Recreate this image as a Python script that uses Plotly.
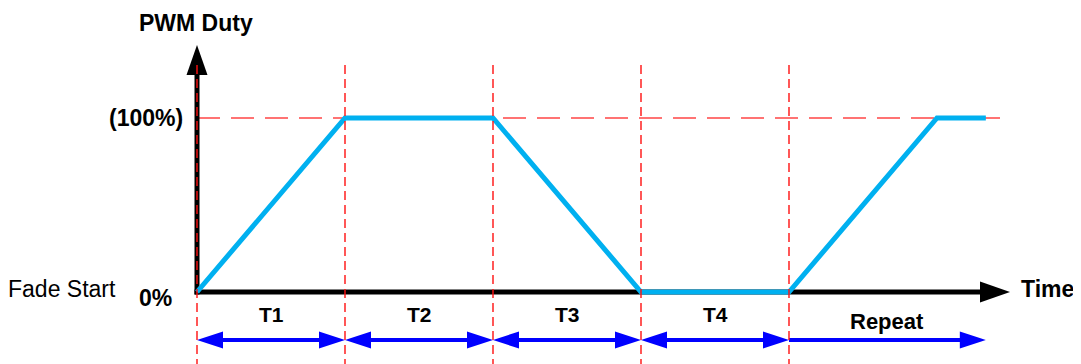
import plotly.graph_objects as go

# duty profile: time in units of one fade phase, duty in percent
time_pts = [0, 1, 2, 3, 4, 5, 5.33]
duty_pts = [0, 100, 100, 0, 0, 100, 100]

phase_edges = [0, 1, 2, 3, 4]
phase_labels = ["T1", "T2", "T3", "T4"]
repeat_end = 5.33
repeat_label = "Repeat"

duty_levels = [0, 100]
duty_labels = ["0%", "(100%)"]

# pixel mapping of the page (the html body has an 8px margin)
W, H = 1081, 364
OFF = 8
X0, Y0 = 197, 292          # origin in page pixels
PX_T, PX_D = 148.0, 1.74   # pixels per time unit / per duty percent


def to_t(px):
    return (px - X0) / PX_T


def to_d(py):
    return (Y0 - py) / PX_D


def to_px(t):
    return X0 + t * PX_T


def to_py(d):
    return Y0 - d * PX_D


FONT = "Liberation Sans, Arial, sans-serif"
fig = go.Figure()


def add_arrow(p0, p1, color, width, head_len, head_w, both=False):
    (x0, y0), (x1, y1) = p0, p1
    lx, ly = x1 - x0, y1 - y0
    n = (lx ** 2 + ly ** 2) ** 0.5
    ux, uy = lx / n, ly / n
    nx, ny = -uy, ux

    def head(tx, ty, sx, sy):
        bx, by = tx - sx * head_len, ty - sy * head_len
        xs = [tx, bx + nx * head_w / 2, bx - nx * head_w / 2, tx]
        ys = [ty, by + ny * head_w / 2, by - ny * head_w / 2, ty]
        fig.add_trace(go.Scatter(
            x=[to_t(v) for v in xs], y=[to_d(v) for v in ys],
            mode="lines", fill="toself", fillcolor=color,
            line=dict(width=0, color=color), hoverinfo="skip",
        ))

    sx0 = x0 + ux * (head_len - 2) if both else x0
    sy0 = y0 + uy * (head_len - 2) if both else y0
    sx1 = x1 - ux * (head_len - 2)
    sy1 = y1 - uy * (head_len - 2)
    fig.add_trace(go.Scatter(
        x=[to_t(sx0), to_t(sx1)], y=[to_d(sy0), to_d(sy1)],
        mode="lines", line=dict(color=color, width=width), hoverinfo="skip",
    ))
    head(x1, y1, ux, uy)
    if both:
        head(x0, y0, -ux, -uy)


# black axes
add_arrow((X0, Y0 + 2.5), (X0, 45), "black", 5, 30, 21)
add_arrow((X0 - 2.5, Y0), (1010, Y0), "black", 5, 30, 21)

# duty curve
fig.add_trace(go.Scatter(
    x=time_pts, y=duty_pts, mode="lines",
    line=dict(color="#00B0F0", width=5), hoverinfo="skip",
))

# phase arrows
ARROW_Y = 340
for i in range(len(phase_labels)):
    add_arrow((to_px(phase_edges[i]), ARROW_Y), (to_px(phase_edges[i + 1]), ARROW_Y),
              "#0000FF", 4, 26, 17, both=True)
add_arrow((to_px(phase_edges[-1]), ARROW_Y), (to_px(repeat_end), ARROW_Y),
          "#0000FF", 4, 26, 17)

shapes = [dict(
    type="line", xref="x", yref="y", layer="below",
    x0=0, x1=to_t(1000), y0=duty_levels[1], y1=duty_levels[1],
    line=dict(color="#FF4545", width=1.5, dash="23px,11px"),
)]
for e in phase_edges:
    shapes.append(dict(
        type="line", xref="x", yref="y", layer="above",
        x0=e, x1=e, y0=to_d(65), y1=to_d(H),
        line=dict(color="#FF1010", width=1.4, dash="9px,5px"),
    ))

annotations = []


def label(text, px, py, bold=True, size=23, xanchor="center", yanchor="middle"):
    annotations.append(dict(
        x=to_t(px), y=to_d(py), xref="x", yref="y", text=f"<b>{text}</b>" if bold else text,
        showarrow=False, xanchor=xanchor, yanchor=yanchor, borderpad=0,
        font=dict(family=FONT, size=size, color="black"),
    ))


label("PWM Duty", 196, OFF + 1, yanchor="top")
label(duty_labels[1], 184, to_py(duty_levels[1]), xanchor="right")
label(duty_labels[0], 155, to_py(duty_levels[0]) + 6)
label("Fade Start", 62, 289, bold=False)
label("Time", 1047, 289)
for i, lab in enumerate(phase_labels):
    label(lab, to_px((phase_edges[i] + phase_edges[i + 1]) / 2), 314, size=21)
label(repeat_label, to_px((phase_edges[-1] + repeat_end) / 2), 321, size=22)

fig.update_layout(
    width=W - OFF, height=H - OFF, autosize=False,
    margin=dict(l=0, r=0, t=0, b=0),
    paper_bgcolor="white", plot_bgcolor="white",
    showlegend=False,
    xaxis=dict(range=[to_t(OFF), to_t(W)], visible=False, fixedrange=True),
    yaxis=dict(range=[to_d(H), to_d(OFF)], visible=False, fixedrange=True),
    shapes=shapes,
    annotations=annotations,
)

fig.write_html("out.html")
